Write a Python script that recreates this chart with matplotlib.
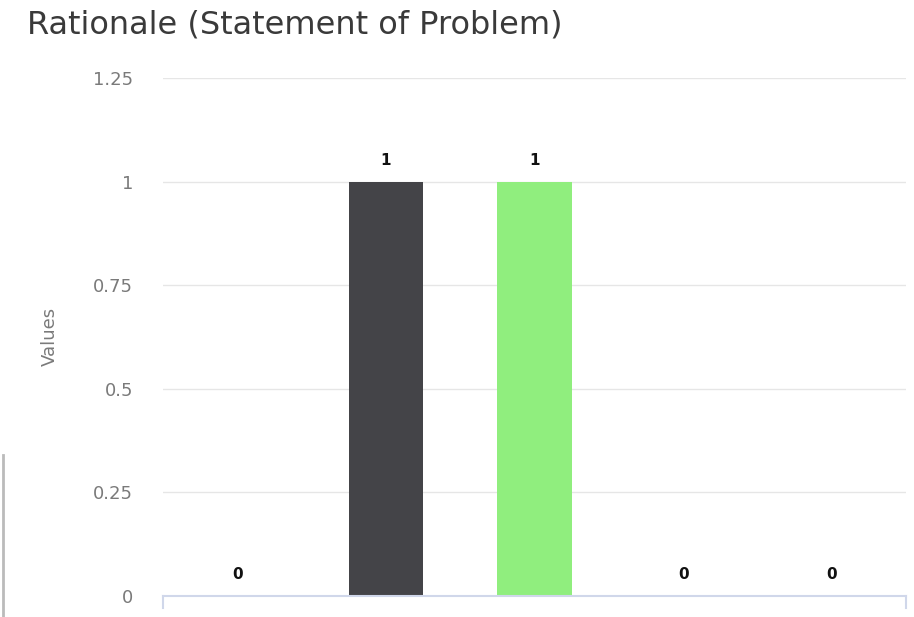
import matplotlib
matplotlib.use("Agg")
import matplotlib.pyplot as plt
from matplotlib.lines import Line2D

categories = ["A", "B", "C", "D", "E"]
values = [0, 1, 1, 0, 0]
colors = ["#008FFB", "#444448", "#90EE7E", "#FF4560", "#775DD0"]
yticks = [0, 0.25, 0.5, 0.75, 1, 1.25]
ytick_labels = ["0", "0.25", "0.5", "0.75", "1", "1.25"]
title = "Rationale (Statement of Problem)"

plt.rcParams['font.family'] = ['DejaVu Sans']

fig = plt.figure(figsize=(9.14, 6.17), dpi=100)
ax = fig.add_axes([163/914, 21/617, (906-163)/914, (596-78)/617])

x = list(range(len(categories)))
ax.bar(x, values, width=0.5, color=colors, zorder=3)
for xi, v in zip(x, values):
    ax.annotate(str(v), (xi, v), xytext=(0, 10), textcoords="offset points",
                ha="center", va="bottom", fontsize=11, fontweight="bold", color="#111111")

ax.set_xlim(-0.5, len(categories) - 0.5)
ax.set_ylim(0, 1.25)
ax.set_yticks(yticks)
ax.set_yticklabels(ytick_labels)
ax.set_xticks([])
ax.tick_params(axis="y", length=0, pad=21.5, labelsize=13, labelcolor="#7a7a7a")
ax.grid(axis="y", color="#e6e6e6", linewidth=1, zorder=0)
for s in ["top", "right", "left"]:
    ax.spines[s].set_visible(False)
ax.spines["bottom"].set_color("#d0d7ea")
ax.spines["bottom"].set_linewidth(1.5)
ax.spines["bottom"].set_zorder(4)

# end ticks of the x axis
for xx in [-0.5, len(categories) - 0.5]:
    ax.plot([xx, xx], [0, -0.03], color="#d0d7ea", linewidth=1.5, clip_on=False, zorder=4)

ax.set_ylabel("Values", fontsize=13, color="#7a7a7a")
ax.yaxis.label.set_va("center")
ax.yaxis.set_label_coords((50 - 163) / 743, (596 - 336) / 518)

fig.text(27/914, 1 - 34/617, title, fontsize=23, color="#3a3a3a", ha="left", va="baseline")

# screenshot edge artifact
fig.add_artist(Line2D([3/914, 3/914], [0, 1 - 455/617], color="#bbbbbb", linewidth=2))

fig.savefig("out.png", dpi=100, facecolor="white")
